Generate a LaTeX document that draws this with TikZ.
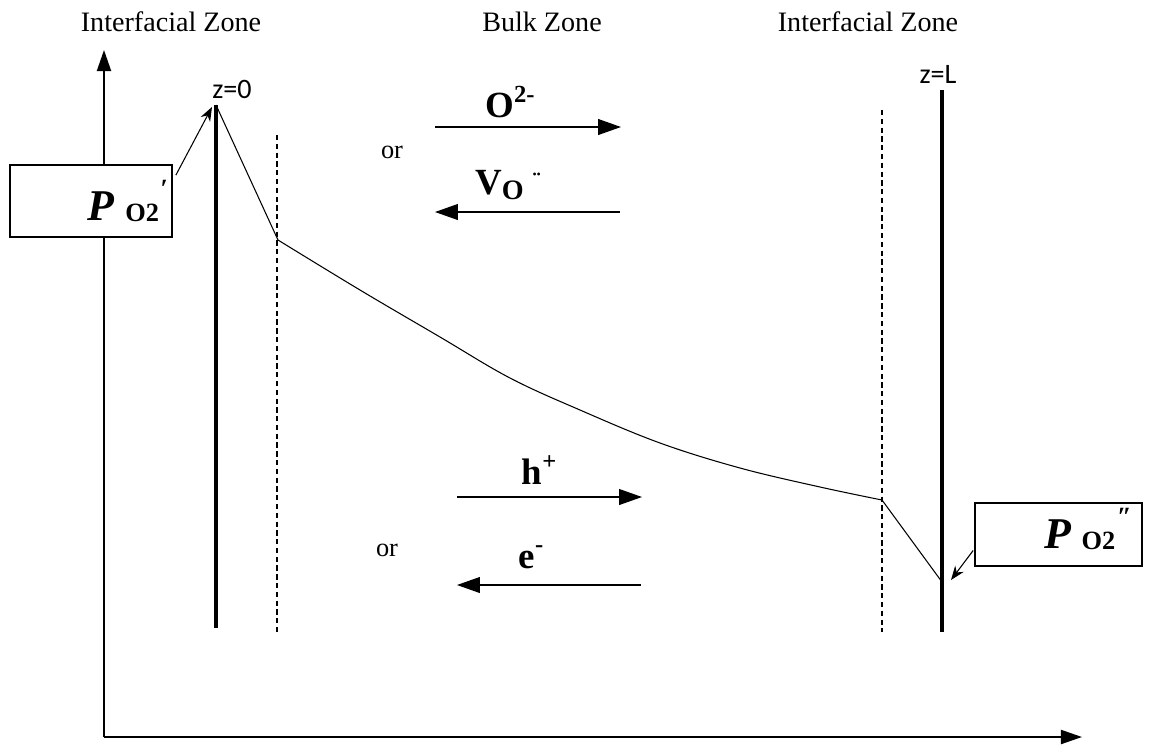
\documentclass[tikz,border=0pt]{standalone}
\usepackage{fontspec}
\setmainfont{Liberation Serif}
\newfontfamily\zfont{Carlito}
\usetikzlibrary{arrows.meta, positioning}

\begin{document}
\begin{tikzpicture}[
    x=0.02cm, y=-0.02cm,
    axis/.style={line width=1.1pt, -{Triangle[length=12pt, width=8pt]}},
    wall/.style={line width=1.8pt},
    zoneline/.style={line width=0.7pt, dash pattern=on 3pt off 2pt},
    flux/.style={line width=0.7pt, -{Triangle[length=13pt, width=9pt]}},
    ptr/.style={line width=0.6pt, -{Stealth[length=8pt, width=6pt]}},
    pbox/.style={rectangle, draw=black, fill=white, line width=1pt, inner sep=0pt},
    zone/.style={font=\fontsize{16}{19}\selectfont},
    species/.style={font=\bfseries\fontsize{21}{24}\selectfont},
    ortext/.style={font=\fontsize{15}{18}\selectfont},
    zlabel/.style={font=\zfont\fontsize{16}{19}\selectfont}
]
    \useasboundingbox (0,0) rectangle (1150,752);

    % Axes
    \coordinate (origin) at (104,737);
    \coordinate (ytop) at (104,50);
    \coordinate (xend) at (1082,737);
    \draw[axis] (origin) -- (ytop);
    \draw[axis] (origin) -- (xend);

    % Zone headings
    \node[zone] (izl) at (171,22) {Interfacial Zone};
    \node[zone] (bz) at (542,22) {Bulk Zone};
    \node[zone] (izr) at (868,22) {Interfacial Zone};

    % Membrane surfaces
    \coordinate (s0top) at (216,105);
    \coordinate (s0bot) at (216,628);
    \coordinate (sLtop) at (942,90);
    \coordinate (sLbot) at (942,632);
    \draw[wall] (s0top) -- (s0bot);
    \draw[wall] (sLtop) -- (sLbot);
    \node[zlabel] (z0) at (232,89) {z=0};
    \node[zlabel] (zL) at (938,74) {z=L};

    % Zone boundaries
    \coordinate (d1top) at (277,135);
    \coordinate (d1bot) at (277,632);
    \coordinate (d2top) at (882,110);
    \coordinate (d2bot) at (882,632);
    \draw[zoneline] (d1top) -- (d1bot);
    \draw[zoneline] (d2top) -- (d2bot);

    % Oxygen partial pressure profile
    \coordinate (k1) at (278,240);
    \coordinate (k2) at (882,500);
    \coordinate (pend) at (942,582);
    \draw[line width=0.6pt] (s0top) -- (k1);
    \draw[line width=0.6pt] plot[smooth, tension=0.6] coordinates
        {(278,240) (360,290) (440,337) (510,378) (580,410) (660,443) (740,468) (820,487) (882,500)};
    \draw[line width=0.6pt] (k2) -- (pend);

    % Pressure boxes
    \node[pbox, minimum width=3.24cm, minimum height=1.44cm] (pl) at (91,201) {};
    \node[anchor=base] (pltext) at (128,220)
        {\bfseries\itshape\fontsize{25}{28}\selectfont P\hspace{6pt}\raisebox{-1pt}{\upshape\fontsize{15}{17}\selectfont O2}\hspace{1pt}\raisebox{13pt}{\upshape\fontsize{15}{17}\selectfont ′}};
    \node[pbox, minimum width=3.34cm, minimum height=1.26cm] (pr) at (1058.5,534.5) {};
    \node[anchor=base] (prtext) at (1088,548)
        {\bfseries\itshape\fontsize{25}{28}\selectfont P\hspace{6pt}\raisebox{-1pt}{\upshape\fontsize{15}{17}\selectfont O2}\hspace{1pt}\raisebox{13pt}{\upshape\fontsize{15}{17}\selectfont ″}};
    \coordinate (s0tip) at (212,107);
    \coordinate (sLtip) at (951,580);
    \draw[ptr] ([shift={(3,11)}]pl.north east) -- (s0tip);
    \draw[ptr] ([shift={(-1,16)}]pr.west) -- (sLtip);

    % Ionic fluxes
    \coordinate (oa) at (435,127);
    \coordinate (ob) at (621,127);
    \coordinate (va) at (620,212);
    \coordinate (vb) at (435,212);
    \draw[flux] (oa) -- (ob);
    \draw[flux] (va) -- (vb);
    \node[species] (oion) at (510,102) {O\raisebox{9pt}{\fontsize{14}{16}\selectfont 2-}};
    \node[species] (vac) at (508,185) {V\raisebox{-3pt}{\fontsize{16}{18}\selectfont O}\hspace{5pt}\raisebox{3pt}{\fontsize{14}{16}\selectfont ¨}};
    \node[ortext] (or1) at (392,152) {or};

    % Electronic fluxes
    \coordinate (ha) at (457,497);
    \coordinate (hb) at (642,497);
    \coordinate (ea) at (641,585);
    \coordinate (eb) at (457,585);
    \draw[flux] (ha) -- (hb);
    \draw[flux] (ea) -- (eb);
    \node[species] (hole) at (539,470) {h\raisebox{9pt}{\fontsize{14}{16}\selectfont +}};
    \node[species] (elec) at (531,557) {e\raisebox{9pt}{\fontsize{14}{16}\selectfont -}};
    \node[ortext] (or2) at (387,550) {or};
\end{tikzpicture}
\end{document}
